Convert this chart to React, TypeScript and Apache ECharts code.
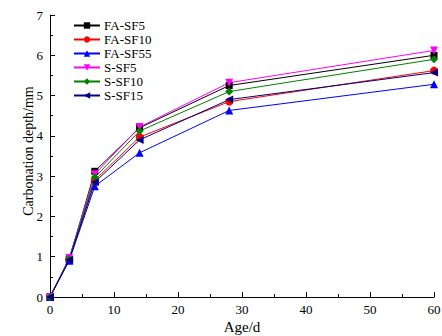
import React, { useEffect, useRef } from "react";
import * as echarts from "echarts";

const ages = [0, 3, 7, 14, 28, 60];
const seriesNames = ["FA-SF5", "FA-SF10", "FA-SF55", "S-SF5", "S-SF10", "S-SF15"];
const faSf5 = [0, 0.93, 3.12, 4.2, 5.25, 6.0];
const faSf10 = [0, 0.93, 2.9, 3.97, 4.85, 5.62];
const faSf55 = [0, 0.9, 2.75, 3.58, 4.63, 5.28];
const sSf5 = [0, 0.97, 3.05, 4.22, 5.32, 6.12];
const sSf10 = [0, 0.95, 2.97, 4.12, 5.1, 5.9];
const sSf15 = [0, 0.92, 2.85, 3.9, 4.9, 5.57];
const xTicks = [0, 10, 20, 30, 40, 50, 60];
const yTicks = [0, 1, 2, 3, 4, 5, 6, 7];

const allValues = [faSf5, faSf10, faSf55, sSf5, sSf10, sSf15];
const colors = ["#000000", "#ff0000", "#0000ff", "#ff00ff", "#008000", "#000080"];
const symbols = ["rect", "circle", "triangle", "triangle", "diamond", "triangle"];
const rotations = [0, 0, 0, 180, 0, 90];
const sizes = [7, 8, 8, 8, 8, 8];

const font = "Liberation Serif";

export default function App() {
  const ref = useRef<HTMLDivElement>(null);
  useEffect(() => {
    if (!ref.current) return;
    const chart = echarts.init(ref.current, null, { renderer: "svg" });
    chart.setOption({
      animation: false,
      backgroundColor: "#ffffff",
      textStyle: { fontFamily: font },
      grid: { left: 50, right: 8, top: 15, bottom: 39, outerBoundsMode: "none" },
      legend: {
        orient: "vertical",
        left: 68,
        top: 14,
        itemWidth: 26,
        itemHeight: 8,
        itemGap: 1,
        data: seriesNames,
        textStyle: { fontFamily: font, fontSize: 13, color: "#000", padding: [0, 0, 0, -1] },
      },
      xAxis: {
        type: "value",
        min: xTicks[0],
        max: xTicks[xTicks.length - 1],
        interval: 10,
        name: "Age/d",
        nameLocation: "middle",
        nameGap: 22,
        nameMoveOverlap: false,
        nameTextStyle: { fontFamily: font, fontSize: 15, color: "#000" },
        axisLine: { lineStyle: { color: "#000", width: 1 } },
        axisTick: { inside: true, length: 5, lineStyle: { color: "#000" } },
        minorTick: { show: true, splitNumber: 2, length: 3, lineStyle: { color: "#000" } },
        axisLabel: { fontFamily: font, fontSize: 13, color: "#000", margin: 6 },
        splitLine: { show: false },
      },
      yAxis: {
        type: "value",
        min: yTicks[0],
        max: yTicks[yTicks.length - 1],
        interval: 1,
        name: "Carbonation depth/mm",
        nameLocation: "middle",
        nameGap: 15,
        nameMoveOverlap: false,
        nameTextStyle: { fontFamily: font, fontSize: 14, color: "#000", padding: [0, 0, 0, 10] },
        axisLine: { show: true, lineStyle: { color: "#000", width: 1 } },
        axisTick: { show: true, inside: true, length: 5, lineStyle: { color: "#000" } },
        minorTick: { show: true, splitNumber: 2, length: 3, lineStyle: { color: "#000" } },
        axisLabel: { fontFamily: font, fontSize: 13, color: "#000", margin: 7 },
        splitLine: { show: false },
      },
      series: seriesNames.map((name, i) => ({
        name,
        type: "line",
        data: ages.map((a, j) => [a, allValues[i][j]]),
        symbol: symbols[i],
        symbolRotate: rotations[i],
        symbolSize: sizes[i],
        showAllSymbol: true,
        itemStyle: { color: colors[i] },
        lineStyle: { color: colors[i], width: 1 },
      })),
    });
    return () => chart.dispose();
  }, []);
  return (
    <div
      ref={ref}
      style={{ position: "absolute", left: 0, top: 0, width: 442, height: 336 }}
    />
  );
}
